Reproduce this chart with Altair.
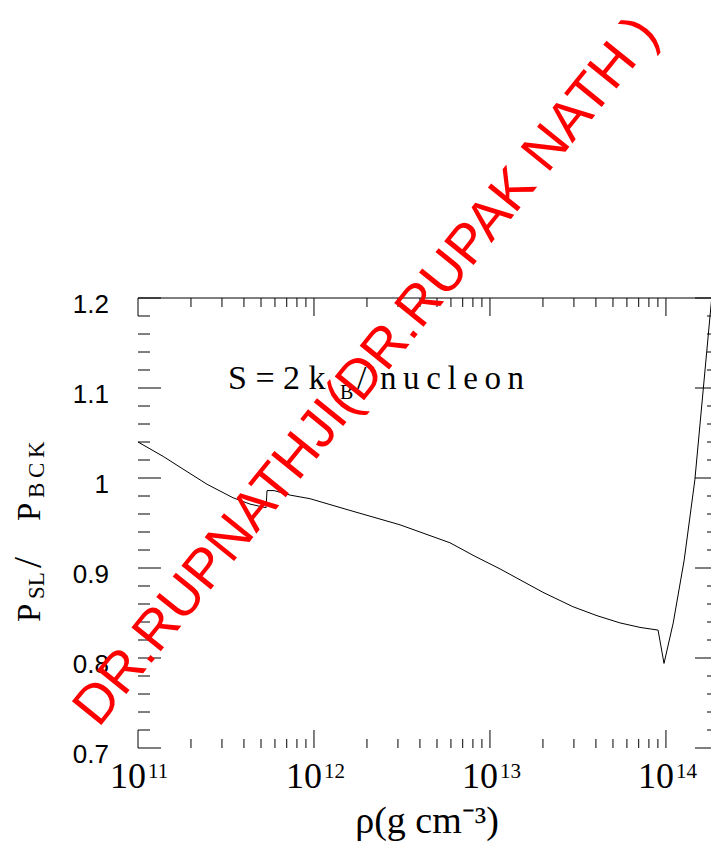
import altair as alt
import pandas as pd

# ---- data ----
rho = [1.00e11, 1.39e11, 1.80e11, 2.47e11, 3.47e11, 4.33e11, 5.34e11, 5.41e11,
       5.93e11, 7.31e11, 9.49e11, 1.60e12, 3.08e12, 5.93e12, 8.22e12, 1.14e13,
       2.00e13, 2.96e13, 4.06e13, 5.48e13, 7.12e13, 9.02e13, 9.75e13, 1.10e14,
       1.27e14, 1.46e14, 1.80e14, 2.00e14]
ratio = [1.040, 1.024, 1.010, 0.993, 0.978, 0.971, 0.967, 0.986,
         0.986, 0.981, 0.977, 0.964, 0.948, 0.928, 0.913, 0.899,
         0.873, 0.857, 0.847, 0.839, 0.834, 0.831, 0.794, 0.839,
         0.909, 0.998, 1.190, 1.280]

x_major = [1e11, 1e12, 1e13, 1e14]
x_base = ["10", "10", "10", "10"]
x_exp = ["11", "12", "13", "14"]
x_minor = [2e11, 3e11, 4e11, 5e11, 6e11, 7e11, 8e11, 9e11,
           2e12, 3e12, 4e12, 5e12, 6e12, 7e12, 8e12, 9e12,
           2e13, 3e13, 4e13, 5e13, 6e13, 7e13, 8e13, 9e13]
y_major = [0.7, 0.8, 0.9, 1.0, 1.1, 1.2]
y_labels = ["0.7", "0.8", "0.9", "1", "1.1", "1.2"]
y_minor = [0.72, 0.74, 0.76, 0.78, 0.82, 0.84, 0.86, 0.88, 0.92, 0.94, 0.96, 0.98,
           1.02, 1.04, 1.06, 1.08, 1.12, 1.14, 1.16, 1.18]

W, H = 573, 450
SERIF = "Liberation Serif"
SANS = "Liberation Sans"

xscale = alt.Scale(type="log", domain=[1e11, 1.803e14], nice=False)
yscale = alt.Scale(domain=[0.7, 1.2], nice=False, zero=False)

df = pd.DataFrame({"rho": rho, "ratio": ratio})

line = alt.Chart(df).mark_line(color="black", strokeWidth=1, clip=True).encode(
    x=alt.X("rho:Q", scale=xscale, axis=alt.Axis(
        values=x_major, labels=False, ticks=False, grid=False, title=None,
        domain=True, domainColor="black", domainWidth=1)),
    y=alt.Y("ratio:Q", scale=yscale, axis=alt.Axis(
        values=y_major, labels=False, ticks=False, grid=False, title=None,
        domain=True, domainColor="black", domainWidth=1)),
    order="rho:Q",
)


def xticks(vals, length, top):
    d = pd.DataFrame({"v": vals})
    if top:
        enc = dict(y=alt.value(0), y2=alt.value(length))
    else:
        enc = dict(y=alt.value(H), y2=alt.value(H - length))
    return alt.Chart(d).mark_rule(color="black", strokeWidth=1).encode(
        x=alt.X("v:Q", scale=xscale, axis=None), **enc)


def yticks(vals, length, right):
    d = pd.DataFrame({"v": vals})
    if right:
        enc = dict(x=alt.value(W - length), x2=alt.value(W))
    else:
        enc = dict(x=alt.value(0), x2=alt.value(length))
    return alt.Chart(d).mark_rule(color="black", strokeWidth=1).encode(
        y=alt.Y("v:Q", scale=yscale, axis=None), **enc)


# tick labels drawn through the scales
xlab_df = pd.DataFrame({"v": x_major, "base": x_base, "exp": x_exp})
xlab_base = alt.Chart(xlab_df).mark_text(
    font=SERIF, fontSize=36, align="right", baseline="alphabetic", dx=8,
    color="black").encode(
    x=alt.X("v:Q", scale=xscale, axis=None), y=alt.value(H + 40), text="base:N")
xlab_exp = alt.Chart(xlab_df).mark_text(
    font=SERIF, fontSize=21, align="left", baseline="alphabetic", dx=10,
    color="black").encode(
    x=alt.X("v:Q", scale=xscale, axis=None), y=alt.value(H + 30), text="exp:N")

ylab_df = pd.DataFrame({"v": y_major, "t": y_labels})
ylab = alt.Chart(ylab_df).mark_text(
    font=SANS, fontSize=26, align="right", baseline="middle", dy=7,
    color="black").encode(
    y=alt.Y("v:Q", scale=yscale, axis=None), x=alt.value(-29), text="t:N")

one = pd.DataFrame({"a": [0]})
top_border = alt.Chart(one).mark_rule(color="black", strokeWidth=1).encode(
    y=alt.value(0), x=alt.value(0), x2=alt.value(W))


def label(text, x, y, size, font=SERIF, angle=0, align="left",
          baseline="alphabetic", color="black"):
    return alt.Chart(one).mark_text(
        text=text, font=font, fontSize=size, angle=angle, align=align,
        baseline=baseline, color=color).encode(x=alt.value(x), y=alt.value(y))


TS = "\u2009"  # thin space, mimics the wide letter spacing of the original font
texts = [
    # annotation S=2 k_B/nucleon
    label("S = 2  k", 90, 91, 34),
    label("B", 202, 101, 20),
    label("/", 219, 91, 34),
    label(TS.join("nucleon"), 242, 91, 33),
    # x title
    label("ρ(g  cm⁻³)", 289, 535, 38, align="center"),
    # y title  P_SL / P_BCK (rotated)
    label("P", -98, 324, 33, angle=270),
    label("SL", -94, 301, 23, angle=270),
    label("/", -97, 270, 40, angle=270),
    label("P", -98, 223, 33, angle=270),
    label(TS.join("BCK"), -94, 200, 23, angle=270),
    # watermark
    label("DR.RUPNATHJI(DR.RUPAK NATH )", 228, 73, 55, font=SANS, angle=309,
          align="center", baseline="middle", color="#ff0000"),
]

chart = alt.layer(
    line,
    xticks(x_major, 18, False), xticks(x_minor, 9, False),
    xticks(x_major, 18, True), xticks(x_minor, 9, True),
    yticks(y_major, 23, False), yticks(y_minor, 12, False),
    yticks(y_major, 16, True), yticks(y_minor, 4, True),
    top_border,
    xlab_base, xlab_exp, ylab,
    *texts,
).properties(
    width=W, height=H,
    autosize=alt.AutoSizeParams(type="none"),
    padding={"left": 138, "top": 298, "right": 0, "bottom": 98},
    background="white",
).configure_view(stroke=None)

chart.save("out.html", embed_options={"renderer": "svg", "actions": False})
